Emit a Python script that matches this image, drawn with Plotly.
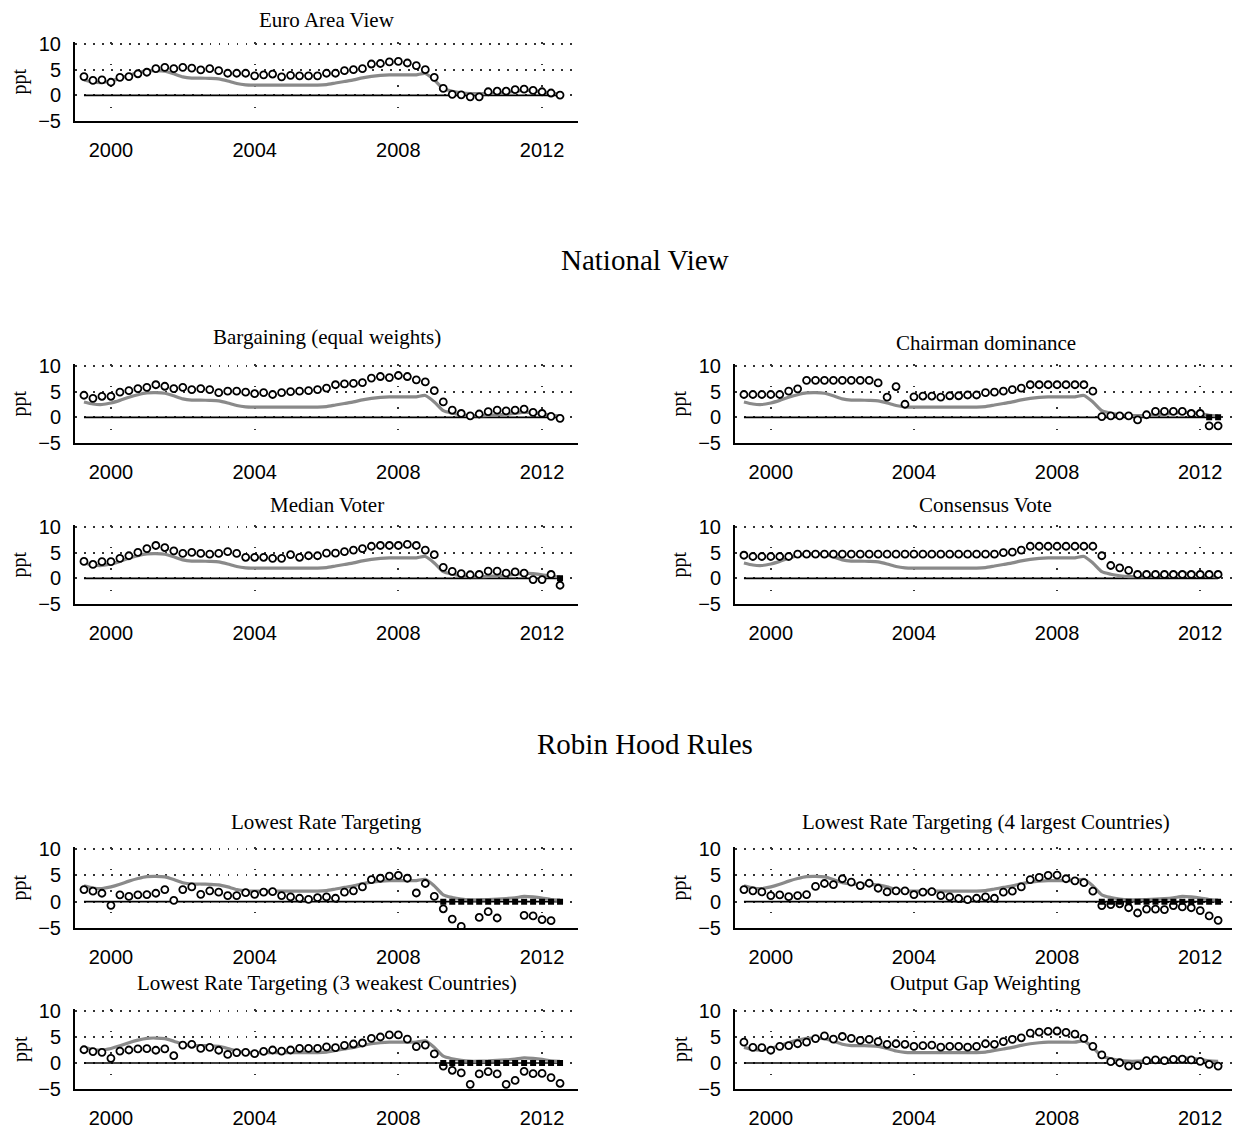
import plotly.graph_objects as go

W, H = 1240, 1130
OFF = 8  # page body margin offset in the browser

# quarterly dates (decimal years, 1999Q2 .. 2012Q3 shown as 1999.25 .. 2012.5)
years = [1999.25, 1999.5, 1999.75, 2000.0, 2000.25, 2000.5, 2000.75, 2001.0, 2001.25, 2001.5,
         2001.75, 2002.0, 2002.25, 2002.5, 2002.75, 2003.0, 2003.25, 2003.5, 2003.75, 2004.0,
         2004.25, 2004.5, 2004.75, 2005.0, 2005.25, 2005.5, 2005.75, 2006.0, 2006.25, 2006.5,
         2006.75, 2007.0, 2007.25, 2007.5, 2007.75, 2008.0, 2008.25, 2008.5, 2008.75, 2009.0,
         2009.25, 2009.5, 2009.75, 2010.0, 2010.25, 2010.5, 2010.75, 2011.0, 2011.25, 2011.5,
         2011.75, 2012.0, 2012.25, 2012.5]

# actual policy rate (grey line)
actual = [3.0, 2.6, 2.5, 2.8, 3.3, 3.9, 4.4, 4.75, 4.8, 4.7,
          4.2, 3.6, 3.35, 3.35, 3.3, 3.2, 2.8, 2.3, 2.05, 2.0,
          2.0, 2.0, 2.0, 2.0, 2.0, 2.0, 2.0, 2.1, 2.4, 2.7,
          3.0, 3.4, 3.7, 3.9, 4.0, 4.0, 4.0, 4.0, 4.25, 3.0,
          1.3, 0.8, 0.5, 0.35, 0.35, 0.4, 0.5, 0.6, 0.75, 1.0,
          0.9, 0.7, 0.4, 0.3]

zero_ref = [0] * len(years)

euro_area = [3.65, 2.9, 3.0, 2.55, 3.5, 3.65, 4.2, 4.5, 5.2, 5.45,
             5.2, 5.45, 5.3, 4.95, 5.2, 4.8, 4.3, 4.3, 4.3, 3.8,
             4.0, 4.15, 3.6, 3.9, 3.8, 3.8, 3.8, 4.3, 4.3, 4.8,
             5.0, 5.2, 6.1, 6.2, 6.5, 6.6, 6.3, 5.8, 5.0, 3.5,
             1.35, 0.2, 0.1, -0.3, -0.3, 0.7, 0.8, 0.8, 1.1, 1.2,
             0.95, 0.7, 0.45, 0.05]

bargaining = [4.3, 3.7, 4.1, 4.1, 4.9, 5.2, 5.6, 5.85, 6.35, 6.05,
              5.6, 5.85, 5.4, 5.6, 5.4, 4.8, 5.1, 5.1, 4.9, 4.6,
              4.8, 4.45, 4.8, 5.0, 5.1, 5.2, 5.4, 5.7, 6.35, 6.5,
              6.6, 6.75, 7.65, 7.95, 7.75, 8.15, 7.95, 7.3, 6.9, 5.2,
              3.0, 1.4, 0.75, 0.3, 0.65, 1.1, 1.4, 1.25, 1.4, 1.6,
              0.95, 0.75, 0.2, -0.2]

chairman = [4.45, 4.45, 4.45, 4.45, 4.45, 5.1, 5.55, 7.2, 7.2, 7.2,
            7.2, 7.2, 7.2, 7.2, 7.2, 6.7, 3.95, 6.0, 2.55, 4.0,
            4.15, 4.15, 3.95, 4.2, 4.2, 4.35, 4.35, 4.8, 4.9, 5.1,
            5.4, 5.7, 6.35, 6.35, 6.35, 6.35, 6.35, 6.35, 6.35, 5.1,
            0.15, 0.3, 0.3, 0.3, -0.5, 0.5, 1.15, 1.15, 1.15, 1.15,
            0.75, 0.75, -1.65, -1.65]

median_voter = [3.3, 2.7, 3.25, 3.25, 3.9, 4.4, 5.05, 5.8, 6.4, 6.0,
                5.35, 4.85, 5.05, 4.85, 4.7, 4.85, 5.2, 4.85, 4.1, 4.1,
                4.1, 3.9, 3.9, 4.6, 4.1, 4.4, 4.4, 4.9, 4.9, 5.2,
                5.5, 5.8, 6.25, 6.4, 6.4, 6.4, 6.6, 6.4, 5.5, 4.6,
                2.15, 1.35, 0.9, 0.7, 0.75, 1.4, 1.4, 1.0, 1.25, 1.0,
                -0.25, -0.25, 0.75, -1.35]

consensus = [4.5, 4.25, 4.25, 4.25, 4.25, 4.25, 4.7, 4.7, 4.7, 4.7,
             4.7, 4.7, 4.7, 4.7, 4.7, 4.7, 4.7, 4.7, 4.7, 4.7,
             4.7, 4.7, 4.7, 4.7, 4.7, 4.7, 4.7, 4.7, 4.7, 5.0,
             5.1, 5.5, 6.25, 6.25, 6.25, 6.25, 6.25, 6.25, 6.25, 6.25,
             4.4, 2.5, 2.05, 1.55, 0.75, 0.75, 0.75, 0.75, 0.75, 0.75,
             0.75, 0.75, 0.75, 0.75]

lowest_rate = [2.3, 2.0, 1.6, -0.7, 1.3, 1.0, 1.3, 1.35, 1.6, 2.3,
               0.25, 2.3, 2.8, 1.4, 2.05, 1.8, 1.15, 1.15, 1.7, 1.4,
               1.8, 1.9, 1.15, 0.9, 0.65, 0.45, 0.75, 0.9, 0.65, 1.8,
               2.05, 2.8, 4.2, 4.45, 4.85, 5.0, 4.45, 1.65, 3.45, 1.0,
               -1.35, -3.3, -4.7, None, -3.0, -1.9, -3.1, None, None, -2.6,
               -2.7, -3.4, -3.6, None]

lowest_rate_4 = [2.3, 2.05, 1.85, 1.15, 1.3, 0.95, 1.15, 1.35, 2.9, 3.45,
                 3.25, 4.35, 3.7, 3.05, 3.5, 2.55, 1.85, 2.05, 2.05, 1.35,
                 1.8, 1.9, 1.15, 0.9, 0.6, 0.4, 0.65, 0.9, 0.65, 1.8,
                 2.0, 2.8, 4.2, 4.6, 5.0, 5.05, 4.35, 3.95, 3.6, 2.0,
                 -0.75, -0.55, -0.4, -1.15, -2.15, -1.4, -1.4, -1.5, -0.75, -1.0,
                 -1.15, -1.7, -2.7, -3.55]

lowest_rate_3 = [2.55, 2.2, 2.05, 0.9, 2.3, 2.5, 2.7, 2.75, 2.45, 2.7,
                 1.4, 3.45, 3.6, 2.8, 3.0, 2.45, 1.65, 2.0, 2.05, 1.8,
                 2.25, 2.5, 2.3, 2.5, 2.8, 2.8, 2.8, 3.1, 2.95, 3.4,
                 3.65, 3.85, 4.75, 5.0, 5.4, 5.4, 4.6, 3.15, 3.45, 1.75,
                 -0.6, -1.4, -1.9, -4.1, -2.1, -1.65, -2.1, -4.1, -3.35, -1.6,
                 -2.05, -2.0, -2.8, -3.9]

output_gap = [4.0, 3.0, 2.95, 2.45, 3.2, 3.35, 3.7, 4.0, 4.7, 5.2,
              4.6, 5.1, 4.75, 4.35, 4.55, 4.1, 3.6, 3.7, 3.6, 3.2,
              3.35, 3.45, 3.05, 3.2, 3.2, 3.05, 3.2, 3.7, 3.6, 4.1,
              4.55, 4.85, 5.75, 5.95, 6.1, 6.15, 5.9, 5.55, 4.75, 3.2,
              1.55, 0.25, 0.05, -0.6, -0.5, 0.45, 0.6, 0.45, 0.7, 0.75,
              0.6, 0.3, -0.25, -0.6]

# quarters where the zero lower bound binds (black squares at 0)
zlb_chairman = [2012.25, 2012.5]
zlb_median = [2012.5]
zlb_robin = [2009.25, 2009.5, 2009.75, 2010.0, 2010.25, 2010.5, 2010.75, 2011.0,
             2011.25, 2011.5, 2011.75, 2012.0, 2012.25, 2012.5]

titles = ["Euro Area View", "Bargaining (equal weights)", "Chairman dominance",
          "Median Voter", "Consensus Vote", "Lowest Rate Targeting",
          "Lowest Rate Targeting (4 largest Countries)",
          "Lowest Rate Targeting (3 weakest Countries)", "Output Gap Weighting"]
series = [euro_area, bargaining, chairman, median_voter, consensus,
          lowest_rate, lowest_rate_4, lowest_rate_3, output_gap]
zlbs = [[], [], zlb_chairman, zlb_median, [], zlb_robin, zlb_robin, zlb_robin, []]

Y_TOP_PAD = 0.35
y_range = [-5, 10 + Y_TOP_PAD]
y_ticks = [-5, 0, 5, 10]
x_ticks = [2000, 2004, 2008, 2012]

# layout geometry (pixels in the photographed page)
LEFT = (75, 578)
RIGHT = (735, 1236)
# (x-span, px of y=10, px of y=-5, title y px)
geom = [
    (LEFT, 44, 121, 20),
    (LEFT, 366, 443, 337),
    (RIGHT, 366, 443, 343),
    (LEFT, 527, 604, 505),
    (RIGHT, 527, 604, 505),
    (LEFT, 849, 928, 822),
    (RIGHT, 849, 928, 822),
    (LEFT, 1011, 1089, 983),
    (RIGHT, 1011, 1089, 983),
]

SERIF = "Liberation Serif"
SANS = "Liberation Sans"

fig = go.Figure()
annotations = []
layout = {}

for i, (title, vals, zlb, g) in enumerate(zip(titles, series, zlbs, geom)):
    n = i + 1
    xs = "" if n == 1 else str(n)
    xname, yname = "x" + xs, "y" + xs
    (x0, x1), top, bot, ty = g
    x0, x1, top, bot, ty = x0 - OFF, x1 - OFF, top - OFF, bot - OFF, ty - OFF
    top = top - Y_TOP_PAD * (bot - top) / 15.0
    xdom = [x0 / W, x1 / W]
    ydom = [1 - bot / H, 1 - top / H]

    fig.add_trace(go.Scatter(x=years, y=zero_ref, mode="lines",
                             line=dict(color="black", width=1.6),
                             xaxis=xname, yaxis=yname, showlegend=False, hoverinfo="skip"))
    fig.add_trace(go.Scatter(x=years, y=actual, mode="lines",
                             line=dict(color="#8a8a8a", width=3.2, shape="spline", smoothing=0.6),
                             xaxis=xname, yaxis=yname, showlegend=False))
    fig.add_trace(go.Scatter(x=years, y=vals, mode="markers",
                             marker=dict(symbol="circle", size=7, color="white",
                                         line=dict(color="black", width=1.8)),
                             xaxis=xname, yaxis=yname, showlegend=False))
    if zlb:
        fig.add_trace(go.Scatter(x=zlb, y=[0] * len(zlb), mode="markers",
                                 marker=dict(symbol="square", size=6, color="black",
                                             line=dict(width=0)),
                                 xaxis=xname, yaxis=yname, showlegend=False))

    layout["xaxis" + xs] = dict(
        domain=xdom, anchor=yname, range=[1999, 2013], automargin=False,
        tickmode="array", tickvals=x_ticks, ticktext=[str(t) for t in x_ticks],
        showline=True, linecolor="black", linewidth=2,
        ticks="outside", ticklen=10, tickcolor="rgba(0,0,0,0)",
        showgrid=True, gridcolor="#333", gridwidth=1.5, griddash="1.5px,20px",
        zeroline=False, tickfont=dict(family=SANS, size=20, color="black"),
    )
    layout["yaxis" + xs] = dict(
        domain=ydom, anchor=xname, range=y_range, automargin=False,
        tickmode="array", tickvals=y_ticks, ticktext=["\u22125", "0", "5", "10"],
        showline=True, linecolor="black", linewidth=2,
        ticks="outside", ticklen=8, tickcolor="rgba(0,0,0,0)",
        showgrid=True, gridcolor="#333", gridwidth=1.5, griddash="1.5px,7.5px",
        zeroline=False, tickfont=dict(family=SANS, size=20, color="black"),
    )
    annotations.append(dict(text=title, x=(xdom[0] + xdom[1]) / 2, y=1 - ty / H,
                            xref="paper", yref="paper", showarrow=False,
                            xanchor="center", yanchor="middle",
                            font=dict(family=SERIF, size=21, color="black")))
    annotations.append(dict(text="ppt", x=(x0 - 55) / W, y=(ydom[0] + ydom[1]) / 2,
                            xref="paper", yref="paper", showarrow=False, textangle=-90,
                            xanchor="center", yanchor="middle",
                            font=dict(family=SERIF, size=20, color="black")))

annotations.append(dict(text="National View", x=(645 - OFF) / W, y=1 - (260 - OFF) / H,
                        xref="paper", yref="paper",
                        showarrow=False, xanchor="center", yanchor="middle",
                        font=dict(family=SERIF, size=29, color="black")))
annotations.append(dict(text="Robin Hood Rules", x=(645 - OFF) / W, y=1 - (744 - OFF) / H,
                        xref="paper", yref="paper",
                        showarrow=False, xanchor="center", yanchor="middle",
                        font=dict(family=SERIF, size=29, color="black")))

fig.update_layout(width=W, height=H, margin=dict(l=0, r=0, t=0, b=0, autoexpand=False),
                  paper_bgcolor="white", plot_bgcolor="white",
                  annotations=annotations, **layout)

fig.write_html("out.html")
